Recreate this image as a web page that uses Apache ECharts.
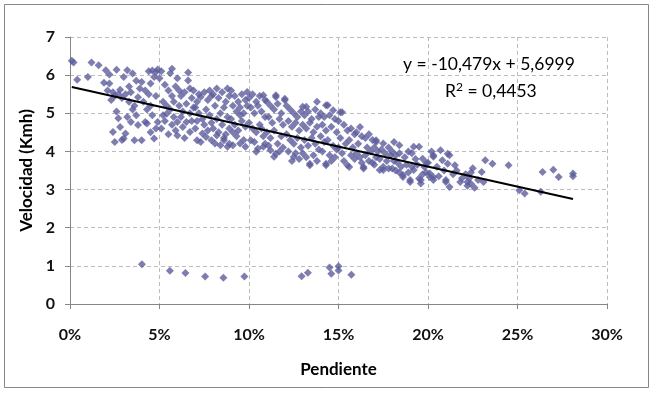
<!DOCTYPE html>
<html><head><meta charset="utf-8">
<script src="https://cdn.jsdelivr.net/npm/echarts@6/dist/echarts.min.js"></script>
<style>html,body{margin:0;padding:0;background:#fff}#c{width:655px;height:394px}</style>
</head><body><div id="c"></div>
<script>
// Pendiente (fraction) vs Velocidad (Kmh)
const mainPoints = [
[0.001,6.38],[0.002,6.33],[0.004,5.88],[0.010,5.95],[0.012,6.33],[0.016,6.26],[0.019,5.8],
[0.020,6.13],[0.022,6.02],[0.026,6.14],[0.022,5.78],[0.021,5.6],[0.024,5.55],[0.025,5.45],[0.027,5.5],[0.023,5.35],[0.028,5.62],[0.029,5.4],[0.024,4.51],[0.025,4.25],[0.028,4.64],[0.027,4.87],[0.026,5.05],[0.029,4.3],[0.030,5.95],
[0.032,6.13],[0.035,6.04],[0.032,4.9],[0.031,4.47],[0.030,4.34],[0.034,4.77],[0.037,4.95],[0.038,4.69],[0.036,4.29],[0.031,5.5],[0.033,5.3],[0.034,5.55],[0.036,5.2],[0.038,5.42],[0.035,5.1],[0.039,5.65],[0.033,5.7],[0.037,5.85],
[0.040,5.82],[0.044,6.1],[0.046,6.12],[0.048,6.08],[0.049,6.15],[0.045,5.78],[0.047,5.95],[0.040,4.29],[0.042,4.77],[0.043,4.73],[0.047,4.34],[0.049,4.77],[0.041,5.3],[0.043,5.1],[0.045,5.2],[0.046,4.95],[0.048,5.45],[0.044,5.5],[0.042,5.6],[0.048,4.6],[0.045,4.5],
[0.050,5.92],[0.052,4.95],[0.054,4.99],[0.058,4.9],[0.057,6.17],[0.056,6.05],[0.051,6.1],[0.053,5.75],[0.055,5.6],[0.057,5.45],[0.059,5.7],[0.052,5.3],[0.054,5.2],[0.056,5.1],[0.058,5.3],[0.051,4.6],[0.055,4.45],[0.059,4.55],[0.053,4.8],[0.057,4.7],
[0.060,5.92],[0.066,6.07],[0.060,4.77],[0.060,4.42],[0.063,4.64],[0.065,4.77],[0.067,4.51],[0.066,5.86],[0.067,5.65],[0.061,5.6],[0.062,5.45],[0.064,5.55],[0.068,5.4],[0.069,5.6],[0.061,5.2],[0.063,5.05],[0.065,5.25],[0.067,5.0],[0.069,5.15],[0.062,4.9],[0.064,4.35],[0.068,4.8],
[0.070,4.6],[0.071,4.29],[0.073,4.25],[0.074,4.47],[0.076,4.38],[0.079,4.29],[0.073,5.43],[0.078,5.6],[0.071,5.3],[0.072,5.5],[0.075,5.55],[0.077,5.35],[0.079,5.45],[0.070,5.15],[0.072,5.0],[0.074,4.85],[0.076,5.1],[0.078,4.95],[0.075,4.7],[0.077,4.55],[0.079,4.75],[0.071,4.8],
[0.081,4.21],[0.082,4.42],[0.084,4.16],[0.086,4.29],[0.088,4.12],[0.082,5.65],[0.088,5.65],[0.080,5.5],[0.083,5.4],[0.085,5.55],[0.087,5.3],[0.089,5.45],[0.081,5.2],[0.084,5.0],[0.086,5.15],[0.088,4.9],[0.080,4.6],[0.083,4.5],[0.085,4.7],[0.087,4.45],[0.089,4.6],[0.082,4.85],[0.086,4.35],[0.089,4.2],
[0.091,4.16],[0.095,4.21],[0.098,4.12],[0.090,5.6],[0.099,5.56],[0.092,5.45],[0.094,5.3],[0.096,5.5],[0.098,5.35],[0.091,5.2],[0.093,5.05],[0.095,5.15],[0.097,5.0],[0.099,5.2],[0.090,4.85],[0.092,4.7],[0.094,4.55],[0.096,4.8],[0.098,4.65],[0.093,4.4],[0.097,4.3],[0.091,4.5],[0.095,4.95],
[0.101,4.29],[0.104,3.99],[0.108,4.12],[0.105,4.08],[0.108,5.47],[0.100,5.4],[0.102,5.5],[0.104,5.3],[0.106,5.45],[0.109,5.35],[0.101,5.15],[0.103,5.0],[0.105,5.2],[0.107,5.05],[0.109,4.9],[0.100,4.75],[0.102,4.6],[0.104,4.5],[0.106,4.7],[0.108,4.4],[0.103,4.25],[0.107,4.6],[0.109,4.2],
[0.112,4.03],[0.115,3.94],[0.114,3.86],[0.115,5.43],[0.115,5.47],[0.110,5.3],[0.112,5.2],[0.114,5.1],[0.116,5.25],[0.118,5.0],[0.111,4.9],[0.113,4.75],[0.117,4.85],[0.119,4.7],[0.110,4.5],[0.112,4.35],[0.114,4.55],[0.116,4.2],[0.118,4.4],[0.119,4.1],[0.111,4.15],[0.117,4.0],
[0.120,5.38],[0.120,5.34],[0.125,3.86],[0.121,5.2],[0.123,5.1],[0.125,5.0],[0.127,4.9],[0.129,5.05],[0.122,4.8],[0.124,4.65],[0.126,4.75],[0.128,4.55],[0.121,4.45],[0.123,4.3],[0.125,4.2],[0.127,4.35],[0.129,4.1],[0.122,4.0],[0.126,3.95],[0.128,3.8],[0.124,3.75],
[0.130,5.17],[0.132,5.17],[0.138,5.3],[0.134,3.64],[0.134,3.68],[0.131,4.95],[0.133,5.05],[0.135,4.85],[0.137,5.1],[0.139,4.9],[0.130,4.7],[0.132,4.6],[0.134,4.75],[0.136,4.5],[0.138,4.65],[0.131,4.3],[0.133,4.15],[0.135,4.35],[0.137,4.2],[0.139,4.05],[0.130,3.95],[0.132,3.85],[0.136,3.9],[0.138,3.75],
[0.144,5.21],[0.143,5.21],[0.147,5.08],[0.143,3.64],[0.143,3.68],[0.140,5.0],[0.142,4.9],[0.145,4.95],[0.148,4.85],[0.141,4.7],[0.143,4.55],[0.146,4.65],[0.149,4.5],[0.140,4.4],[0.142,4.25],[0.144,4.3],[0.147,4.15],[0.149,4.05],[0.141,4.0],[0.145,3.9],[0.148,3.85],[0.146,3.75],
[0.152,5.03],[0.151,5.03],[0.155,3.64],[0.156,3.59],[0.150,4.8],[0.153,4.7],[0.155,4.55],[0.157,4.6],[0.159,4.45],[0.151,4.35],[0.154,4.2],[0.156,4.3],[0.158,4.1],[0.150,4.1],[0.152,3.95],[0.157,3.9],[0.159,3.8],[0.153,3.75],
[0.162,4.64],[0.164,3.59],[0.164,3.55],[0.160,4.5],[0.163,4.4],[0.165,4.35],[0.167,4.45],[0.169,4.3],[0.161,4.2],[0.166,4.1],[0.168,4.0],[0.160,3.95],[0.162,3.85],[0.165,3.9],[0.167,3.75],[0.169,3.7],[0.163,3.7],
[0.171,4.25],[0.171,4.29],[0.175,4.21],[0.173,3.51],[0.175,3.51],[0.170,4.1],[0.172,4.0],[0.174,4.05],[0.176,3.95],[0.178,4.1],[0.171,3.85],[0.173,3.8],[0.177,3.75],[0.179,3.9],[0.170,3.65],[0.175,3.6],[0.178,3.55],
[0.184,4.16],[0.181,4.25],[0.186,3.38],[0.186,3.33],[0.180,4.0],[0.182,3.9],[0.184,3.95],[0.187,3.85],[0.189,4.0],[0.181,3.75],[0.183,3.7],[0.185,3.6],[0.188,3.65],[0.180,3.55],[0.182,3.5],[0.189,3.45],[0.184,3.45],
[0.195,4.12],[0.192,4.12],[0.190,3.25],[0.190,3.2],[0.195,3.29],[0.196,3.16],[0.196,3.25],[0.192,3.51],[0.198,3.59],[0.197,3.81],[0.191,3.95],[0.193,3.8],[0.194,3.65],[0.199,3.7],[0.191,3.6],[0.197,3.4],[0.199,3.45],
[0.207,4.03],[0.203,3.9],[0.208,3.77],[0.201,3.42],[0.203,3.25],[0.203,3.33],[0.201,3.33],[0.203,3.86],[0.205,3.6],[0.209,3.5],[0.200,3.7],[0.206,3.35],[0.202,4.0],
[0.211,3.94],[0.211,3.68],[0.212,3.9],[0.215,3.64],[0.210,3.25],[0.210,3.2],[0.218,3.2],[0.212,3.07],[0.214,3.4],[0.216,3.5],[0.219,3.3],
[0.222,3.1],[0.223,3.3],[0.224,3.45],[0.225,3.56],[0.222,3.2],[0.221,3.4],[0.224,3.15],[0.226,3.05],[0.228,3.25],
[0.231,3.2],[0.230,3.46],[0.232,3.77],[0.236,3.68],[0.245,3.64],
[0.251,2.98],[0.254,2.9],[0.263,2.94],[0.264,3.46],[0.270,3.52],[0.273,3.33],[0.281,3.42],[0.281,3.35]
];
const lowPoints = [
[0.0402,1.04],[0.0558,0.87],[0.0645,0.81],[0.0755,0.72],[0.0857,0.69],[0.0974,0.72],
[0.1294,0.73],[0.1329,0.82],[0.145,0.96],[0.146,0.79],[0.150,0.99],[0.150,0.88],[0.1572,0.77]
];
const trendSlope = -10.479;
const trendIntercept = 5.6999;
const equationText = 'y = -10,479x + 5,6999';
const r2Text = '0,4453';
const xTicks = [0, 0.05, 0.10, 0.15, 0.20, 0.25, 0.30];
const yTicks = [0, 1, 2, 3, 4, 5, 6, 7];

const allPts = mainPoints.concat(lowPoints);
const xs = allPts.map(p => p[0]);
const xMin = Math.min.apply(null, xs), xMax = Math.max.apply(null, xs);
const trendData = [[xMin, trendSlope * xMin + trendIntercept], [xMax, trendSlope * xMax + trendIntercept]];

const FONT = 'Lato, "Open Sans", sans-serif';
const chart = echarts.init(document.getElementById('c'));
chart.setOption({
  animation: false,
  backgroundColor: '#ffffff',
  grid: { left: 70, right: 48, top: 37, bottom: 90 },
  xAxis: {
    type: 'value', min: xTicks[0], max: xTicks[xTicks.length - 1], interval: 0.05,
    name: 'Pendiente', nameLocation: 'middle', nameGap: 57,
    nameTextStyle: { fontFamily: FONT, fontSize: 17, fontWeight: 'bold', color: '#000' },
    axisLine: { show: true, lineStyle: { color: '#868686', width: 1 } },
    axisTick: { show: true, inside: false, length: 5, lineStyle: { color: '#868686' } },
    axisLabel: { fontFamily: FONT, fontSize: 16, fontWeight: 'bold', color: '#111', margin: 23,
      formatter: v => Math.round(v * 100) + '%' },
    splitLine: { show: true, lineStyle: { color: '#bdbdbd', type: [4, 3], width: 1 } }
  },
  yAxis: {
    type: 'value', min: yTicks[0], max: yTicks[yTicks.length - 1], interval: 1,
    name: 'Velocidad (Kmh)', nameLocation: 'middle', nameGap: 31, nameRotate: 90,
    nameTextStyle: { fontFamily: FONT, fontSize: 17, fontWeight: 'bold', color: '#000' },
    axisLine: { show: true, lineStyle: { color: '#868686', width: 1 } },
    axisTick: { show: true, inside: false, length: 5, lineStyle: { color: '#868686' } },
    axisLabel: { fontFamily: FONT, fontSize: 16, fontWeight: 'bold', color: '#111', margin: 15 },
    splitLine: { show: true, lineStyle: { color: '#bdbdbd', type: [4, 3], width: 1 } }
  },
  series: [
    { type: 'scatter', data: mainPoints, symbol: 'diamond', symbolSize: 8,
      itemStyle: { color: '#5c5c9c' }, z: 2 },
    { type: 'scatter', data: lowPoints, symbol: 'diamond', symbolSize: 8,
      itemStyle: { color: '#5c5c9c' }, z: 2 },
    { type: 'line', data: trendData, symbol: 'none', lineStyle: { color: '#000', width: 2 }, z: 3 }
  ],
  graphic: [
    { type: 'rect', shape: { x: 4.5, y: 4.5, width: 644, height: 383 }, style: { fill: 'none', stroke: '#868686', lineWidth: 1 }, silent: true },
    { type: 'text', left: 403, top: 55, style: { text: equationText, fontFamily: FONT, fontSize: 17.5, fill: '#000' } },
    { type: 'text', left: 445, top: 81, style: { text: 'R{sup|2} = ' + r2Text, fontFamily: FONT, fontSize: 17.5, fill: '#000',
      rich: { sup: { fontSize: 12, verticalAlign: 'top', padding: [0, 0, 8, 0], fontFamily: FONT } } } }
  ]
});
</script></body></html>
